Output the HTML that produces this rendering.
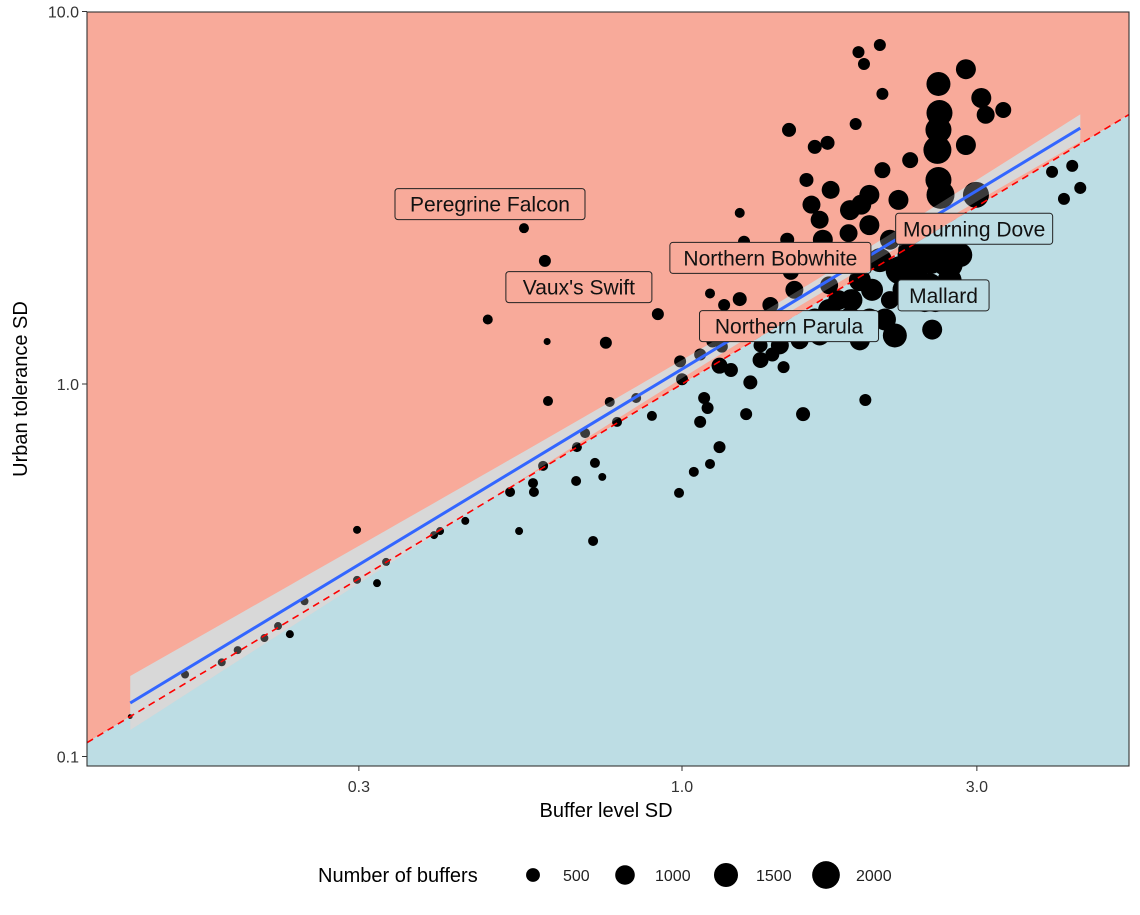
<!DOCTYPE html>
<html><head><meta charset="utf-8"><style>
body{margin:0;background:#fff;}
svg{display:block;font-family:"Liberation Sans",Arial,sans-serif;}
</style></head><body>
<svg id="chart" width="1140" height="915" viewBox="0 0 1140 915" xmlns="http://www.w3.org/2000/svg">
<defs><clipPath id="panelClip"><rect x="87" y="12" width="1042" height="754"/></clipPath>
<clipPath id="labelClip"></clipPath></defs>
<g id="bg" clip-path="url(#panelClip)"></g>
<g id="ribbonBase" clip-path="url(#panelClip)"></g>
<g id="points" clip-path="url(#panelClip)"></g>
<g id="ribbonTop" clip-path="url(#panelClip)"></g>
<g id="lines" clip-path="url(#panelClip)"></g>
<g id="labelBg" clip-path="url(#labelClip)"></g>
<g id="labels"></g>
<rect x="87" y="12" width="1042" height="754" fill="none" stroke="#333" stroke-width="1.1"/>
<g id="axes"></g>
<text x="606" y="817" font-size="20" text-anchor="middle">Buffer level SD</text>
<text transform="translate(27,389) rotate(-90)" font-size="20" text-anchor="middle">Urban tolerance SD</text>
<g id="legend">
<text x="318" y="882" font-size="20">Number of buffers</text>
</g>
</svg>
<script>
const xs=[0.128,0.157,0.180,0.191,0.211,0.222,0.232,0.245,0.298,0.298,0.321,0.332,0.397,0.406,0.446,0.485,0.527,0.545,0.555,0.574,0.576,0.600,0.596,0.605,0.607,0.674,0.676,0.697,0.718,0.723,0.743,0.753,0.764,0.785,0.843,0.894,0.914,0.989,0.993,1.00,1.045,1.07,1.07,1.086,1.10,1.11,1.11,1.12,1.15,1.16,1.17,1.24,1.24,1.26,1.27,1.29,1.34,1.40,1.44,1.46,1.48,1.49,1.50,1.52,1.55,1.57,1.59,1.61,1.62,1.64,1.67,1.69,1.72,1.73,1.74,1.75,1.79,1.80,1.86,1.88,1.91,1.93,1.97,1.98,1.95,2.01,2.03,2.09,2.11,2.11,2.13,2.17,2.21,2.24,2.34,2.38,2.43,2.52,2.54,2.57,2.59,2.60,2.60,2.61,2.62,2.67,2.60,2.88,2.99,3.05,3.10,3.31,3.97,4.15,4.28,4.41,2.47,2.71,2.34,2.52,2.09,1.94,1.73,1.64,1.55,1.44,1.34,1.20,1.39,2.01,1.87,2.17,2.30,1.15,2.88,2.30,2.47,2.71,2.01,1.87,1.67,1.94,2.82,2.67,2.25];
const ys=[0.128,0.166,0.179,0.193,0.208,0.224,0.213,0.261,0.406,0.298,0.292,0.333,0.393,0.403,0.429,1.49,0.513,0.403,2.62,0.542,0.513,2.14,0.603,1.30,0.90,0.549,0.677,0.738,0.379,0.614,0.563,1.29,0.895,0.791,0.917,0.821,1.54,0.510,1.15,1.03,0.581,0.791,1.20,0.917,0.862,0.610,1.75,1.30,0.677,1.26,1.63,2.88,1.69,2.41,0.83,1.01,1.27,1.20,1.40,1.11,2.44,4.81,2.0,1.79,1.31,0.83,3.53,2.25,3.03,4.33,2.76,2.44,4.44,1.84,3.32,2.15,1.68,1.40,2.54,1.68,4.99,7.78,7.23,0.906,3.03,3.22,1.79,8.13,6.01,3.75,1.49,2.44,1.35,3.12,3.99,2.02,2.59,2.15,1.40,1.68,4.25,4.81,3.53,5.34,3.22,2.13,6.39,4.38,3.22,5.86,5.28,5.44,3.71,3.14,3.85,3.36,2.29,2.09,2.29,1.84,2.15,1.90,1.58,1.49,1.40,1.27,1.16,1.09,1.63,2.67,2.93,1.68,2.22,1.12,7.0,1.79,1.68,1.90,1.49,1.49,1.35,1.31,2.22,2.44,2.02];
const ns=[60,166,166,166,166,166,166,166,166,166,166,166,166,166,166,260,260,166,260,260,260,375,260,130,260,260,260,260,260,260,166,375,260,260,260,260,375,260,375,375,260,375,375,375,375,260,260,375,375,375,375,260,510,375,375,510,510,510,665,375,510,510,665,840,840,510,510,840,840,510,840,1040,510,840,840,1040,1040,1260,840,1260,375,375,375,375,1040,1040,1260,375,375,665,1260,1040,1500,1040,665,1760,1760,2040,1040,1500,2040,1760,1760,1760,2040,2040,1500,1040,1760,1040,840,665,375,375,375,375,2040,1760,1500,1500,1500,1260,1260,1260,1040,840,665,510,665,1040,1040,840,665,665,1040,1760,1500,1500,1260,1500,1040,1040,1500,1760,2040];
const xTicks=[0.3,1.0,3.0], xTickLabels=["0.3","1.0","3.0"];
const yTicks=[0.1,1.0,10.0], yTickLabels=["0.1","1.0","10.0"];
const legendN=[500,1000,1500,2000], legendLabels=["500","1000","1500","2000"];
const fitIntercept=0.04, fitSlope=1.004, fitXmin=0.128, fitXmax=4.41;
const labelNames=["Peregrine Falcon","Vaux's Swift","Northern Bobwhite","Mourning Dove","Mallard","Northern Parula"];
const labelX=[0.489,0.681,1.39,2.97,2.65,1.49];
const labelY=[3.04,1.82,2.18,2.61,1.73,1.43];

const NS="http://www.w3.org/2000/svg";
const X=v=>682+618*Math.log10(v), Y=v=>384-372.5*Math.log10(v);
const R=n=>0.31*Math.sqrt(n);
function mk(tag,parent,attrs){const e=document.createElementNS(NS,tag);for(const k in attrs)e.setAttribute(k,attrs[k]);parent.appendChild(e);return e;}
const g=id=>document.getElementById(id);
const xmin=10**((87-682)/618), xmax=10**((1129-682)/618);
function bgPolys(parent){
 const up=mk('polygon',parent,{points:`${X(xmin)},${Y(xmin)} ${X(xmax)},${Y(xmax)} 1129,12 87,12`,fill:'#F8AA9A'});
 
 const dn=mk('polygon',parent,{points:`${X(xmin)},${Y(xmin)} ${X(xmax)},${Y(xmax)} 1129,766 87,766`,fill:'#BDDDE4'});
 
}
bgPolys(g('bg'));
function ribbonPath(){const top=[],bot=[];const m=0.18;
 for(let i=0;i<=60;i++){const lx=Math.log10(fitXmin)+(Math.log10(fitXmax)-Math.log10(fitXmin))*i/60;
  const ly=fitIntercept+fitSlope*lx;const se=Math.sqrt(64+580*(lx-m)**2)/372.5;
  const px=682+618*lx;top.push(px+','+(384-372.5*(ly+se)));bot.unshift(px+','+(384-372.5*(ly-se)));}
 return top.concat(bot).join(' ');}
const rb=mk('polygon',g('ribbonBase'),{points:ribbonPath(),fill:'#CDCDCD'});

for(let i=0;i<xs.length;i++){const c=mk('circle',g('points'),{cx:X(xs[i]),cy:Y(ys[i]),r:R(ns[i]),fill:'#000'});
 }
const rt=mk('polygon',g('ribbonTop'),{points:ribbonPath(),fill:'#fff','fill-opacity':0.23});

const dl=mk('line',g('lines'),{x1:X(xmin),y1:Y(xmin),x2:X(xmax),y2:Y(xmax),stroke:'#FF0000','stroke-width':1.6,'stroke-dasharray':'7,5'});

const fy=x=>10**(fitIntercept+fitSlope*Math.log10(x));
const fl=mk('line',g('lines'),{x1:X(fitXmin),y1:Y(fy(fitXmin)),x2:X(fitXmax),y2:Y(fy(fitXmax)),stroke:'#3366FF','stroke-width':3});

const clip=g('labelClip');const rects=[];
for(let i=0;i<labelNames.length;i++){
 const w=labelNames[i].length*11.0+14, h=31;const cx=X(labelX[i]), cy=Y(labelY[i]);
 const x=cx-w/2,y=cy-h/2;rects.push([x,y,w,h]);
 mk('rect',clip,{x:x,y:y,width:w,height:h,rx:3});
}
bgPolys(g('labelBg'));
for(let i=0;i<labelNames.length;i++){const [x,y,w,h]=rects[i];
 const gg=mk('g',g('labels'),{});
 mk('rect',gg,{x:x,y:y,width:w,height:h,rx:3,fill:'none',stroke:'#222','stroke-width':1});
 const t=mk('text',gg,{x:x+w/2,y:y+h/2+7.5,'font-size':21,'text-anchor':'middle',fill:'#111'});t.textContent=labelNames[i];}
const ax=g('axes');
xTicks.forEach((v,i)=>{const l=mk('line',ax,{x1:X(v),x2:X(v),y1:766,y2:771,stroke:'#333'});
 const t=mk('text',ax,{x:X(v),y:792,'font-size':16,'text-anchor':'middle',fill:'#333'});t.textContent=xTickLabels[i];});
yTicks.forEach((v,i)=>{const l=mk('line',ax,{x1:82,x2:87,y1:Y(v),y2:Y(v),stroke:'#333'});
 const t=mk('text',ax,{x:79,y:Y(v)+6,'font-size':16,'text-anchor':'end',fill:'#333'});t.textContent=yTickLabels[i];});
const lg=g('legend');let lx=533;
legendN.forEach((n,i)=>{const c=mk('circle',lg,{cx:lx,cy:875,r:R(n),fill:'#000'});
 const t=mk('text',lg,{x:lx+30,y:881,'font-size':16,fill:'#222'});t.textContent=legendLabels[i];
 lx+= [92,101,100][i]||0;});
</script>
</body></html>
